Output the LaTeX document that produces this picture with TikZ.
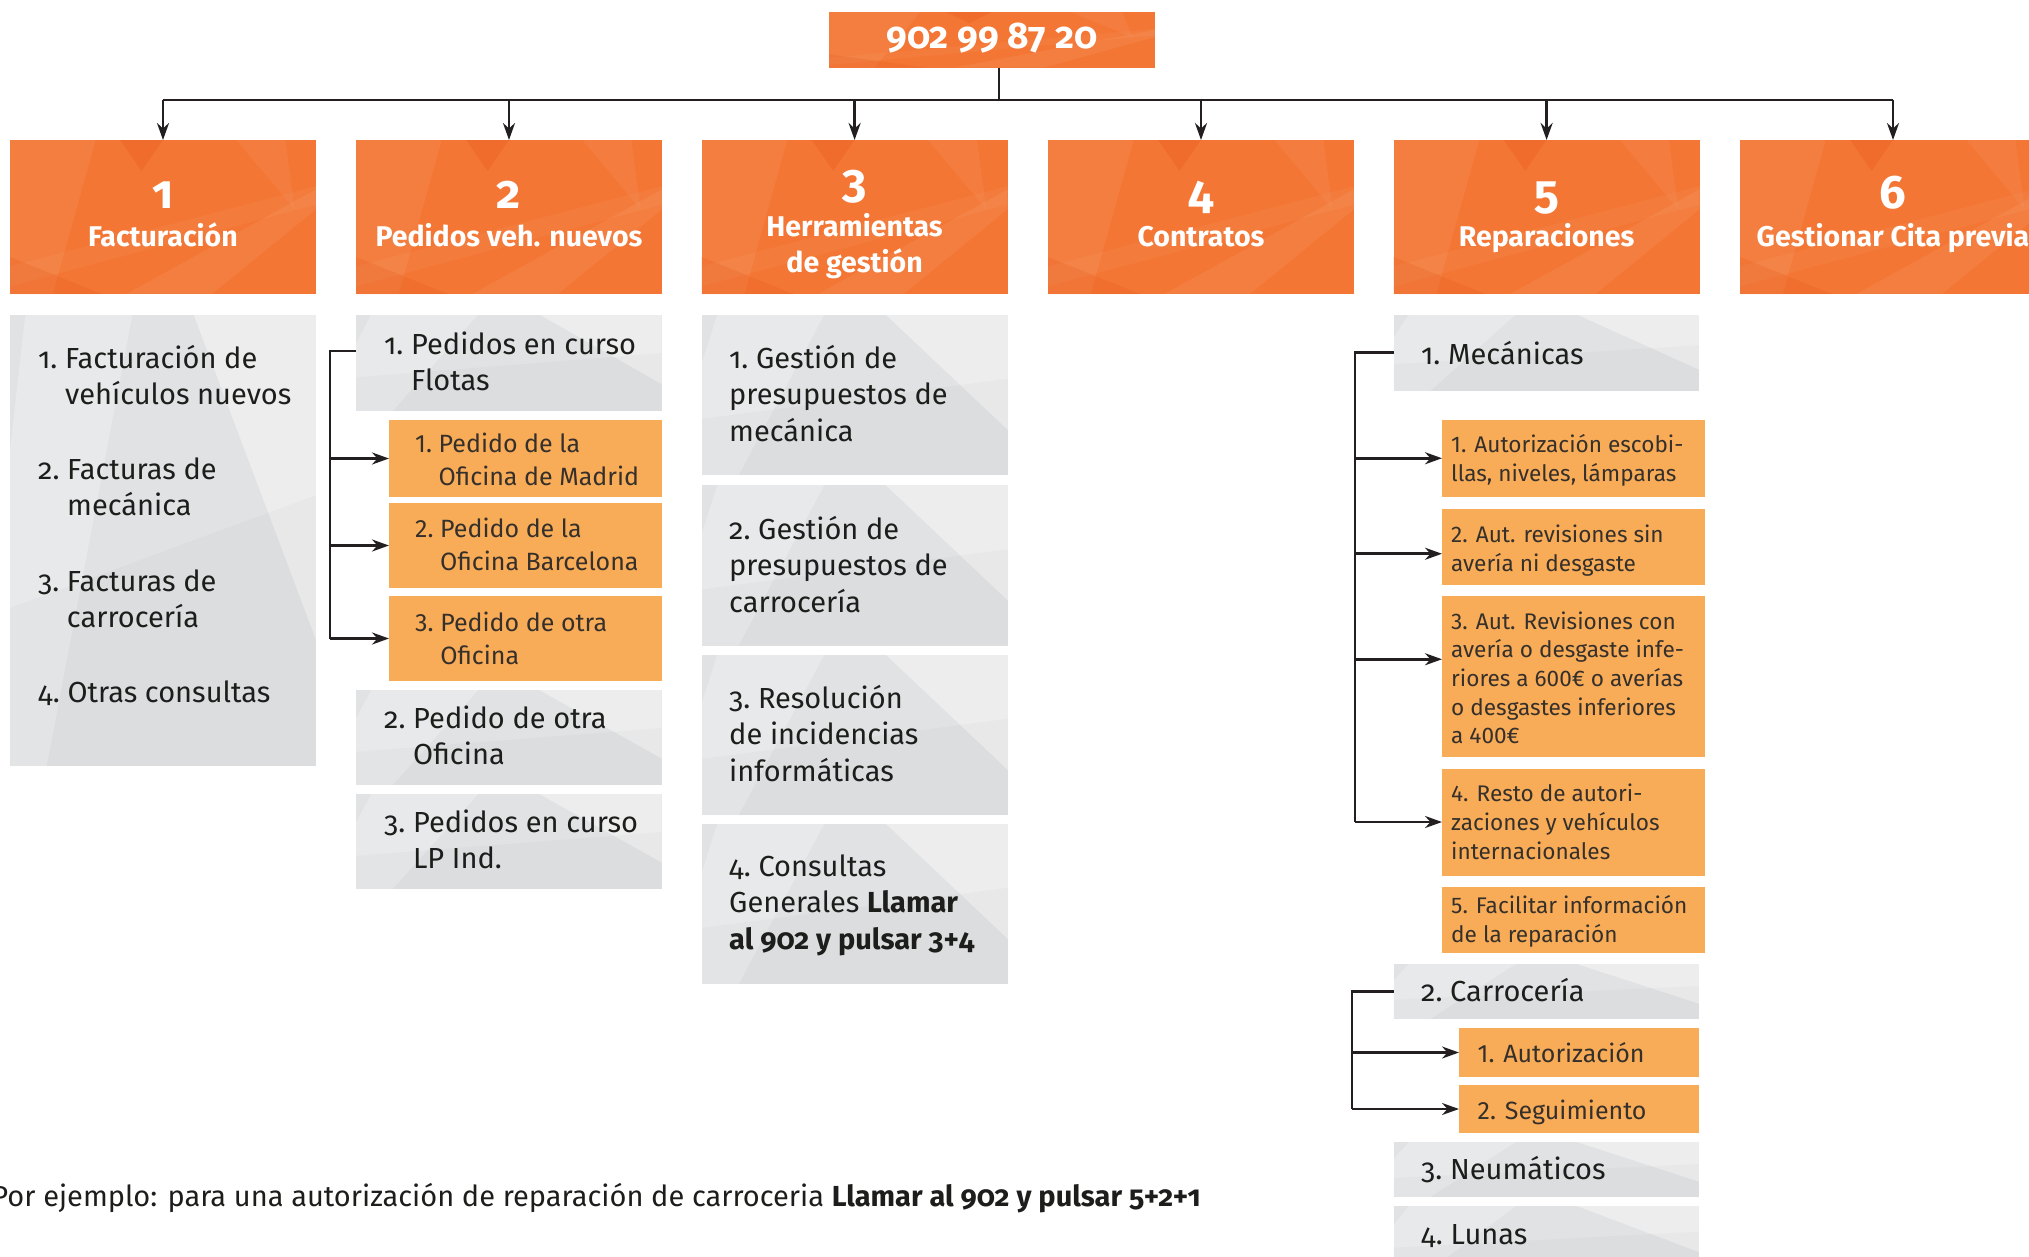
\documentclass[tikz,border=0pt]{standalone}
\usepackage{fontspec}
\setmainfont{Fira Sans}[Numbers=OldStyle]
\newfontfamily\linfont{Fira Sans}[Numbers=Lining]
\usetikzlibrary{arrows.meta}
\definecolor{ttl}{HTML}{F37634}
\definecolor{ttldark}{HTML}{EC6224}
\definecolor{subor}{HTML}{F9AC57}
\definecolor{gbox}{HTML}{E1E2E4}
\definecolor{gtxt}{HTML}{1D1D1B}
\definecolor{otxt}{HTML}{35302B}
\definecolor{lnc}{HTML}{231F20}
\newcommand\ptx[1]{\parbox[t]{400pt}{\raggedright #1}}
% facet overlays: x, y (top-left), w, h
\newcommand\ofac[4]{\begin{scope}[shift={(#1,#2)},xscale=#3,yscale=#4]
  \clip (0,0) rectangle (1,1);
  \fill[white,opacity=.06] (0,0)--(0.28,0)--(0.14,1)--(0,1)--cycle;
  \fill[ttldark,opacity=.45] (0.36,0)--(0.5,0)--(0.43,0.2)--cycle;
  \fill[white,opacity=.06] (0.38,1)--(0.66,1)--(1,0.45)--(1,0.32)--cycle;
  \fill[white,opacity=.05] (0.74,0)--(0.9,0)--(0.93,0.45)--cycle;
  \fill[ttldark,opacity=.3] (0,0.76)--(0.3,1)--(0,1)--cycle;
  \fill[white,opacity=.04] (0,0.82)--(1,0.3)--(1,0.42)--(0,0.95)--cycle;
\end{scope}}
\newcommand\gfac[4]{\begin{scope}[shift={(#1,#2)},xscale=#3,yscale=#4]
  \clip (0,0) rectangle (1,1);
  \fill[white,opacity=.4] (0.6,0)--(1,0)--(1,0.72)--cycle;
  \fill[white,opacity=.25] (0.05,0)--(0.4,0)--(0.12,1)--(0,1)--(0,0.3)--cycle;
  \fill[black,opacity=.02] (0,0.65)--(1,0.4)--(1,1)--(0,1)--cycle;
\end{scope}}
\tikzset{
  box/.style={inner sep=0pt, outer sep=0pt, anchor=north west, draw=none},
  ttlbox/.style={box, fill=ttl, minimum width=306pt, minimum height=154pt},
  grybox/.style={box, fill=gbox},
  orbox/.style={box, fill=subor},
  gtext/.style={anchor=base west, inner sep=0pt, text=gtxt, font=\fontsize{29}{36.5}\selectfont},
  otext/.style={anchor=base west, inner sep=0pt, text=otxt, font=\linfont\fontsize{25}{33}\selectfont},
  otextb/.style={anchor=base west, inner sep=0pt, text=otxt, font=\linfont\fontsize{22.6}{28.7}\selectfont},
  otextc/.style={anchor=base west, inner sep=0pt, text=otxt, font=\linfont\fontsize{25}{30}\selectfont},
  ttltext/.style={anchor=base, inner sep=0pt, text=white, font=\bfseries\fontsize{28.5}{36}\selectfont},
  ttlnum/.style={anchor=base, inner sep=0pt, text=white, font=\bfseries\fontsize{47}{47}\selectfont},
  conn/.style={draw=lnc, line width=2.6pt},
  arr/.style={conn, -{Stealth[length=17pt,width=12pt]}},
}
\begin{document}
\begin{tikzpicture}[x=1pt,y=-1pt]
\useasboundingbox (0,0) rectangle (2029,1256);
\clip (0,0) rectangle (2029,1256);

% top
\node[box, fill=ttl, minimum width=326pt, minimum height=55.7pt] (top) at (829,12) {};
\ofac{829}{12}{326}{55.7}
\node[anchor=base, inner sep=0pt, text=white, font=\bfseries\fontsize{37}{37}\selectfont] (topt) at (992,48) {902 99 87 20};

% level 1
\node[ttlbox] (t1) at (10,140) {};
\node[ttlbox] (t2) at (356,140) {};
\node[ttlbox] (t3) at (701.6,140) {};
\node[ttlbox] (t4) at (1048,140) {};
\node[ttlbox] (t5) at (1393.6,140) {};
\node[ttlbox] (t6) at (1740,140) {};
\ofac{10}{140}{306}{154}
\ofac{356}{140}{306}{154}
\ofac{701.6}{140}{306}{154}
\ofac{1048}{140}{306}{154}
\ofac{1393.6}{140}{306}{154}
\ofac{1740}{140}{306}{154}

\node[ttlnum] (t1n) at (163,208) {1};
\node[ttltext] (t1l) at (163,246) {Facturación};
\node[ttlnum] (t2n) at (509,208) {2};
\node[ttltext] (t2l) at (509,246) {Pedidos veh. nuevos};
\node[ttlnum] (t3n) at (854.6,197) {3};
\node[ttltext] (t3l) at (854.6,236) {Herramientas};
\node[ttltext] (t3m) at (854.6,272) {de gestión};
\node[ttlnum] (t4n) at (1201,208) {4};
\node[ttltext] (t4l) at (1201,246) {Contratos};
\node[ttlnum] (t5n) at (1546.6,208) {5};
\node[ttltext] (t5l) at (1546.6,246) {Reparaciones};
\node[ttlnum] (t6n) at (1893,208) {6};
\node[ttltext] (t6l) at (1893,246) {Gestionar Cita previa};

\coordinate (bar) at (999,100);
\draw[conn] (top.south -| bar) -- (bar);
\draw[conn] (bar -| t1.north) -- (bar -| t6.north);
\foreach \t in {t1,t2,t3,t4,t5,t6} \draw[arr] (bar -| \t.north) -- (\t.north);

% column 1
\node[grybox, minimum width=306pt, minimum height=451.5pt] (g11) at (10,314.5) {};
\gfac{10}{314.5}{306}{451.5}
\node[gtext] (g11a) at (38,368) {\ptx{1.~Facturación de\\\hphantom{1.~}vehículos nuevos}};
\node[gtext] (g11b) at (38,479) {\ptx{2.~Facturas de\\\hphantom{2.~}mecánica}};
\node[gtext] (g11c) at (38,591) {\ptx{3.~Facturas de\\\hphantom{3.~}carrocería}};
\node[gtext] (g11d) at (38,702) {\ptx{4.~Otras consultas}};

% column 2
\node[grybox, minimum width=305.6pt, minimum height=96.5pt] (g21) at (356,314.5) {};
\node[orbox, minimum width=272.6pt, minimum height=77pt] (o21) at (389,420) {};
\node[orbox, minimum width=272.6pt, minimum height=85pt] (o22) at (389,503) {};
\node[orbox, minimum width=272.6pt, minimum height=85pt] (o23) at (389,596) {};
\node[grybox, minimum width=305.6pt, minimum height=95pt] (g22) at (356,690) {};
\node[grybox, minimum width=305.6pt, minimum height=95pt] (g23) at (356,794) {};
\gfac{356}{314.5}{305.6}{96.5}
\gfac{356}{690}{305.6}{95}
\gfac{356}{794}{305.6}{95}
\node[gtext] (g21t) at (384,354) {\ptx{1.~Pedidos en curso\\\hphantom{1.~}Flotas}};
\node[otext] (o21t) at (415,452) {\ptx{1.~Pedido de la\\\hphantom{1.~}Oficina de Madrid}};
\node[otext] (o22t) at (415,537) {\ptx{2.~Pedido de la\\\hphantom{2.~}Oficina Barcelona}};
\node[otext] (o23t) at (415,631) {\ptx{3.~Pedido de otra\\\hphantom{3.~}Oficina}};
\node[gtext] (g22t) at (384,728) {\ptx{2.~Pedido de otra\\\hphantom{2.~}Oficina}};
\node[gtext] (g23t) at (384,832) {\ptx{3.~Pedidos en curso\\\hphantom{3.~}LP Ind.}};

\coordinate (c2) at (330,351);
\draw[conn] (g21.west |- c2) -- (c2) -- (c2 |- o23.west);
\foreach \o in {o21,o22,o23} \draw[arr] (c2 |- \o.west) -- (\o.west);

% column 3
\node[grybox, minimum width=306pt, minimum height=160.5pt] (g31) at (702,314.5) {};
\node[grybox, minimum width=306pt, minimum height=160.5pt] (g32) at (702,485) {};
\node[grybox, minimum width=306pt, minimum height=160.5pt] (g33) at (702,654.5) {};
\node[grybox, minimum width=306pt, minimum height=160.5pt] (g34) at (702,823.5) {};
\gfac{702}{314.5}{306}{160.5}
\gfac{702}{485}{306}{160.5}
\gfac{702}{654.5}{306}{160.5}
\gfac{702}{823.5}{306}{160.5}
\node[gtext] (g31t) at (729,368) {\ptx{1.~Gestión de\\presupuestos de\\mecánica}};
\node[gtext] (g32t) at (729,539) {\ptx{2.~Gestión de\\presupuestos de\\carrocería}};
\node[gtext] (g33t) at (729,708) {\ptx{3.~Resolución\\de incidencias\\informáticas}};
\node[gtext] (g34t) at (729,876) {\ptx{4.~Consultas\\Generales \textbf{Llamar}\\\textbf{al 902 y pulsar 3+4}}};

% column 5
\node[grybox, minimum width=305.4pt, minimum height=76.5pt] (g51) at (1393.6,314.5) {};
\node[orbox, minimum width=263pt, minimum height=76.5pt] (o51) at (1442,420) {};
\node[orbox, minimum width=263pt, minimum height=76.5pt] (o52) at (1442,508.5) {};
\node[orbox, minimum width=263pt, minimum height=160.5pt] (o53) at (1442,596) {};
\node[orbox, minimum width=263pt, minimum height=107pt] (o54) at (1442,768.5) {};
\node[orbox, minimum width=263pt, minimum height=65.7pt] (o55) at (1442,887) {};
\node[grybox, minimum width=305.4pt, minimum height=55pt] (g52) at (1393.6,964) {};
\node[orbox, minimum width=240pt, minimum height=49pt] (oA) at (1459,1028) {};
\node[orbox, minimum width=240pt, minimum height=48pt] (oB) at (1459,1085) {};
\node[grybox, minimum width=305.4pt, minimum height=55pt] (g53) at (1393.6,1142) {};
\node[grybox, minimum width=305.4pt, minimum height=64pt] (g54) at (1393.6,1206) {};
\gfac{1393.6}{314.5}{305.4}{76.5}
\gfac{1393.6}{964}{305.4}{55}
\gfac{1393.6}{1142}{305.4}{55}
\gfac{1393.6}{1206}{305.4}{64}

\node[gtext] (g51t) at (1421,364) {1.~Mecánicas};
\node[otextb] (o51t) at (1451,452.6) {\ptx{1. Autorización escobi-\\llas, niveles, lámparas}};
\node[otextb] (o52t) at (1451,542.5) {\ptx{2. Aut. revisiones sin\\avería ni desgaste}};
\node[otextb] (o53t) at (1451,629) {\ptx{3. Aut. Revisiones con\\avería o desgaste infe-\\riores a 600€ o averías\\o desgastes inferiores\\a 400€}};
\node[otextb] (o54t) at (1451,801.7) {\ptx{4. Resto de autori-\\zaciones y vehículos\\internacionales}};
\node[otextb] (o55t) at (1451,913.6) {\ptx{5. Facilitar información\\de la reparación}};
\node[gtext] (g52t) at (1421,1001.7) {2.~Carrocería};
\node[otextc] (oAt) at (1477.5,1062.7) {1. Autorización};
\node[otextc] (oBt) at (1477.5,1119) {2. Seguimiento};
\node[gtext] (g53t) at (1421,1179) {3.~Neumáticos};
\node[gtext] (g54t) at (1421,1244) {4.~Lunas};

\coordinate (c5) at (1355,353);
\path ([yshift=-7pt]o52.west) coordinate (o52in);
\path ([yshift=17pt]o53.west) coordinate (o53in);
\draw[conn] (g51.west) -- (g51.west -| c5) -- (c5 |- o54.west);
\draw[arr] (c5 |- o51.west) -- (o51.west);
\draw[arr] (c5 |- o52in) -- (o52in);
\draw[arr] (c5 |- o53in) -- (o53in);
\draw[arr] (c5 |- o54.west) -- (o54.west);

\coordinate (c6) at (1352,990);
\draw[conn] (g52.west) -- (g52.west -| c6) -- (c6 |- oB.west);
\draw[arr] (c6 |- oA.west) -- (oA.west);
\draw[arr] (c6 |- oB.west) -- (oB.west);

% footnote
\node[anchor=base east, inner sep=0pt, text=gtxt, font=\fontsize{29}{31}\selectfont] (foot) at (1201,1206) {Por ejemplo: para una autorización de reparación de carroceria \textbf{Llamar al 902 y pulsar 5+2+1}};
\end{tikzpicture}
\end{document}
